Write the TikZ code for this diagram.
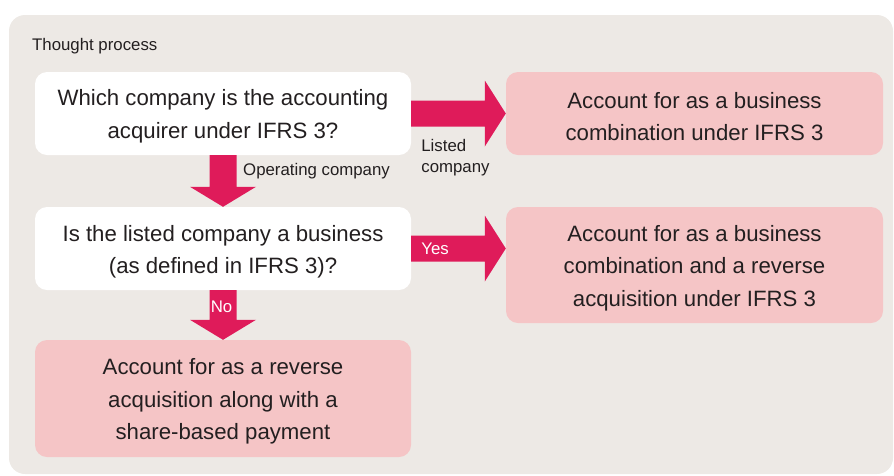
\documentclass[tikz,border=0pt]{standalone}
\usepackage{fontspec}
\setmainfont{Liberation Sans}
\usetikzlibrary{calc}
\definecolor{panelbg}{HTML}{EDE9E5}
\definecolor{pinkbox}{HTML}{F5C5C6}
\definecolor{arrowred}{HTML}{DF1B5A}
\definecolor{txt}{HTML}{231F20}
\tikzset{
  box/.style={rounded corners=12pt, inner sep=0pt},
  qbox/.style={box, fill=white},
  abox/.style={box, fill=pinkbox},
  boxtxt/.style={inner sep=0pt, align=center, text=txt, yshift=-3pt,
    font={\fontsize{22.2pt}{32.5pt}\selectfont}},
  lbl/.style={inner sep=0pt, text=txt, align=left, font={\fontsize{16.8pt}{21pt}\selectfont}},
  wlbl/.style={inner sep=0pt, text=white, font={\fontsize{16.8pt}{21pt}\selectfont}},
  harrow/.style={to path={let \p1=(\tikztostart), \p2=(\tikztotarget) in
    (\x1,\y1-13pt) -- (\x2-21pt,\y1-13pt) -- (\x2-21pt,\y1-33pt) -- (\x2,\y1)
    -- (\x2-21pt,\y1+33pt) -- (\x2-21pt,\y1+13pt) -- (\x1,\y1+13pt) -- cycle}},
  varrow/.style={to path={let \p1=(\tikztostart), \p2=(\tikztotarget) in
    (\x1-13.5pt,\y1) -- (\x1-13.5pt,\y2+20pt) -- (\x1-33pt,\y2+20pt) -- (\x1,\y2)
    -- (\x1+33pt,\y2+20pt) -- (\x1+13.5pt,\y2+20pt) -- (\x1+13.5pt,\y1) -- cycle}},
}
\begin{document}
\begin{tikzpicture}[x=1pt,y=-1pt]
\useasboundingbox (0,0) rectangle (894,475);
\fill[panelbg, rounded corners=16pt] (9,15) rectangle (893,474);
\node[lbl, anchor=base west] (title) at (32,50.5) {Thought process};

\node[qbox, minimum width=376pt, minimum height=83pt,
  label={[boxtxt]center:{Which company is the accounting\\acquirer under IFRS 3?}}] (b1) at (223,113.5) {};
\node[qbox, minimum width=376pt, minimum height=83pt,
  label={[boxtxt]center:{Is the listed company a business\\(as defined in IFRS 3)?}}] (b2) at (223,248.5) {};
\node[abox, minimum width=376pt, minimum height=117pt,
  label={[boxtxt]center:{Account for as a reverse\\acquisition along with a\\share-based payment}}] (b3) at (223,398.5) {};
\node[abox, minimum width=377pt, minimum height=83pt,
  label={[boxtxt]center:{Account for as a business\\combination under IFRS 3}}] (r1) at (694.5,113.5) {};
\node[abox, minimum width=377pt, minimum height=116pt,
  label={[boxtxt]center:{Account for as a business\\combination and a reverse\\acquisition under IFRS 3}}] (r2) at (694.5,265) {};

\fill[arrowred] (b1.east) to[harrow] (r1.west);
\fill[arrowred] (b2.east) to[harrow] (b2.east -| r2.west);
\fill[arrowred] (b1.south) to[varrow] (b2.north);
\fill[arrowred] (b2.south) to[varrow] (b3.north);

\node[lbl, anchor=north west] (listed) at ($(b1.south east)+(10,-16)$) {Listed\\company};
\node[lbl, anchor=west] (opco) at ($(b1.south)+(20,16)$) {Operating company};
\node[wlbl, anchor=west] (yes) at ($(b2.east)+(10,0)$) {Yes};
\node[wlbl] (no) at ($(b2.south)+(-1.5,17)$) {No};
\end{tikzpicture}
\end{document}
